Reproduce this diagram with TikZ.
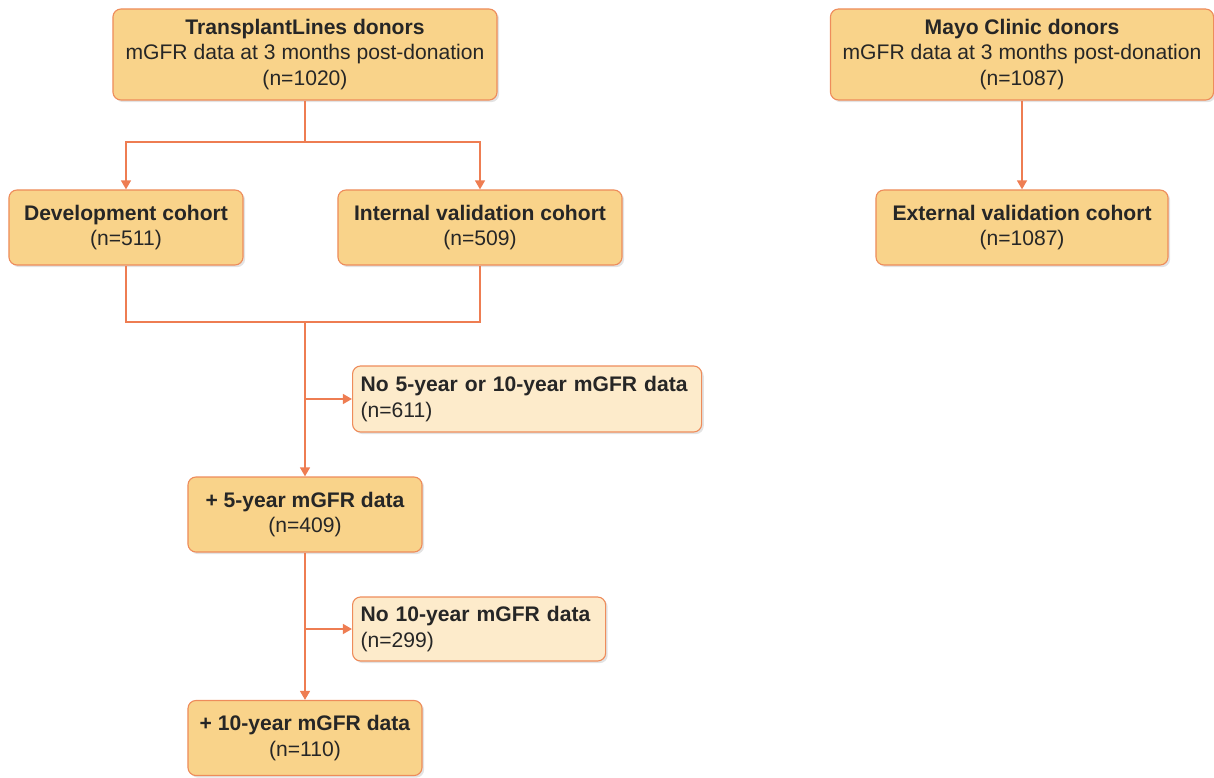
\documentclass[tikz,border=0pt]{standalone}
\usepackage{fontspec}
\setmainfont{Liberation Sans}
\usetikzlibrary{arrows.meta,shadows}
\definecolor{boxfill}{HTML}{F9D38A}
\definecolor{exclfill}{HTML}{FDEBCB}
\definecolor{boxline}{HTML}{EE8C5B}
\definecolor{flowline}{HTML}{EE7D52}
\begin{document}
\begin{tikzpicture}[x=0.025cm,y=-0.025cm]
    \tikzstyle{cohort} = [rectangle, rounded corners=0.2cm, draw=boxline, line width=0.8pt, fill=boxfill, align=center, text=black!85, font=\fontsize{15}{18}\selectfont, drop shadow={opacity=0.22, shadow xshift=1.5pt, shadow yshift=-1.5pt}]
    \tikzstyle{excluded} = [cohort, fill=exclfill, align=left, anchor=west, inner xsep=0.2cm]
    \tikzstyle{link} = [line width=1.5pt, draw=flowline]
    \tikzstyle{arrow} = [link, ->, >={Triangle[length=6.5pt,width=7pt]}]

    \useasboundingbox (0,0) rectangle (1214,777);

    \node [cohort, minimum width=9.6cm, minimum height=2.275cm] (tl) at (305,54.5) {\textbf{TransplantLines donors}\\mGFR data at 3 months post-donation\\(n=1020)};
    \node [cohort, minimum width=9.575cm, minimum height=2.275cm] (mayo) at (1022,54.5) {\textbf{Mayo Clinic donors}\\mGFR data at 3 months post-donation\\(n=1087)};
    \node [cohort, minimum width=5.85cm, minimum height=1.875cm] (dev) at (126,227.5) {\textbf{Development cohort}\\(n=511)};
    \node [cohort, minimum width=7.1cm, minimum height=1.875cm] (int) at (480,227.5) {\textbf{Internal validation cohort}\\(n=509)};
    \node [cohort, minimum width=7.3cm, minimum height=1.875cm] (ext) at (1022,227.5) {\textbf{External validation cohort}\\(n=1087)};
    \node [excluded, text width=8.325cm, minimum height=1.65cm] (nofive) at (352,399) {\textbf{No 5-year or 10-year mGFR data}\\(n=611)};
    \node [cohort, minimum width=5.85cm, minimum height=1.875cm] (fiveyr) at (305,514.5) {\textbf{+ 5-year mGFR data}\\(n=409)};
    \node [excluded, text width=5.925cm, minimum height=1.6cm] (noten) at (352,629) {\textbf{No 10-year mGFR data}\\(n=299)};
    \node [cohort, minimum width=5.85cm, minimum height=1.875cm] (tenyr) at (305,738) {\textbf{+ 10-year mGFR data}\\(n=110)};

    \coordinate (split) at (305,142);
    \coordinate (merge) at (305,322);

    \draw [link] (tl) -- (split);
    \draw [arrow] (split) -| (dev);
    \draw [arrow] (split) -| (int);
    \draw [link] (dev) |- (merge);
    \draw [link] (int) |- (merge);
    \draw [arrow] (merge) -- (fiveyr);
    \draw [arrow] (merge |- nofive.west) -- (nofive.west);
    \draw [arrow] (fiveyr) -- (tenyr);
    \draw [arrow] (fiveyr |- noten.west) -- (noten.west);
    \draw [arrow] (mayo) -- (ext);
\end{tikzpicture}
\end{document}
